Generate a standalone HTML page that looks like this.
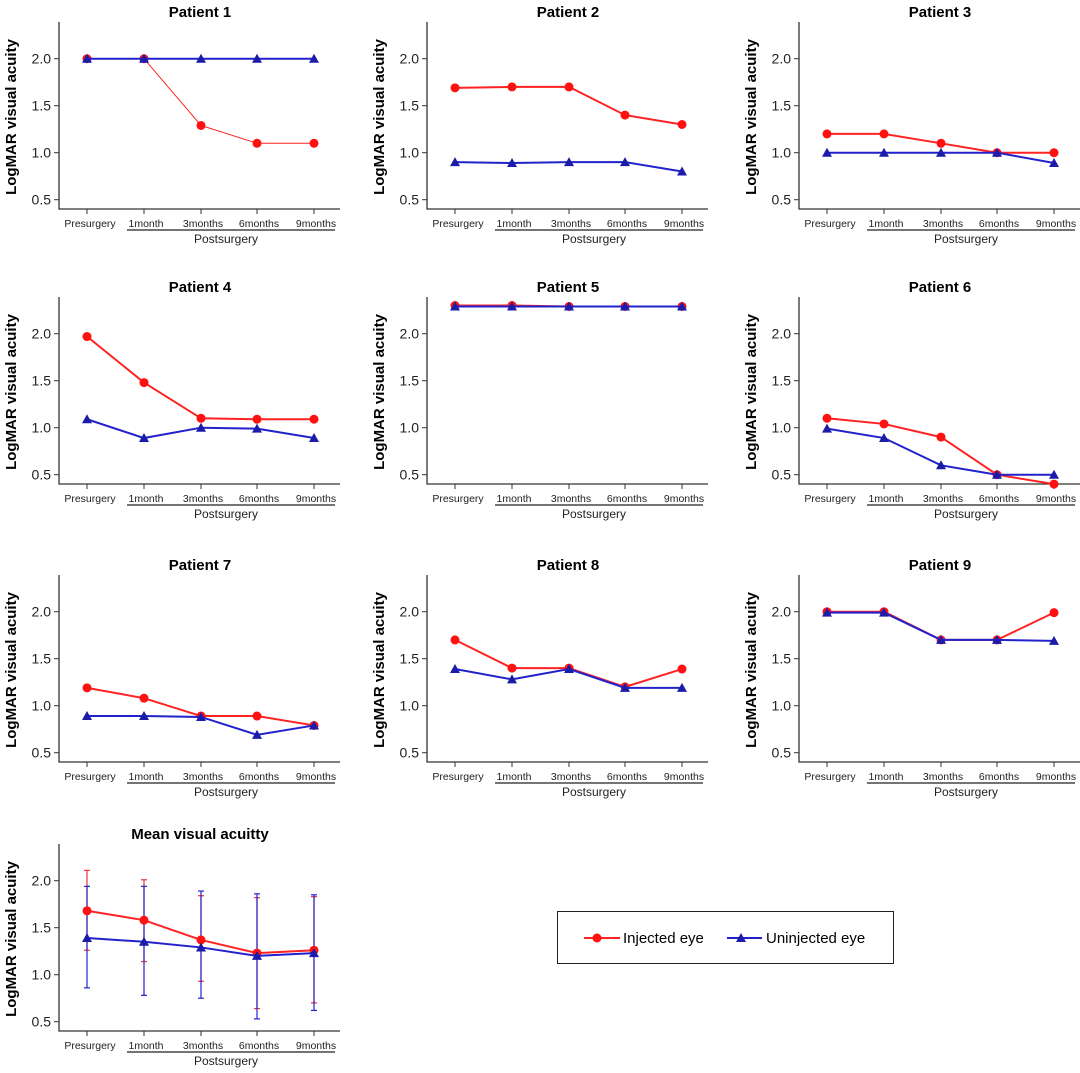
<!DOCTYPE html>
<html><head><meta charset="utf-8"><style>
body{margin:0;background:#fff;}
svg{display:block;font-family:"Liberation Sans",Arial,sans-serif;}
</style></head><body>
<svg id="s" width="1080" height="1073" xmlns="http://www.w3.org/2000/svg"></svg>
<script>
const P=[
["Patient 1",[2,2,1.29,1.1,1.1],[2,2,2,2,2]],
["Patient 2",[1.69,1.7,1.7,1.4,1.3],[.9,.89,.9,.9,.8]],
["Patient 3",[1.2,1.2,1.1,1.0,1.0],[1,1,1,1,.89]],
["Patient 4",[1.97,1.48,1.1,1.09,1.09],[1.09,.89,1.0,.99,.89]],
["Patient 5",[2.3,2.3,2.29,2.29,2.29],[2.29,2.29,2.29,2.29,2.29]],
["Patient 6",[1.1,1.04,.9,.5,.4],[.99,.89,.6,.5,.5]],
["Patient 7",[1.19,1.08,.89,.89,.79],[.89,.89,.88,.69,.79]],
["Patient 8",[1.7,1.4,1.4,1.2,1.39],[1.39,1.28,1.39,1.19,1.19]],
["Patient 9",[2,2,1.7,1.7,1.99],[1.99,1.99,1.7,1.7,1.69]],
["Mean visual acuitty",[1.68,1.58,1.37,1.23,1.26],[1.39,1.35,1.29,1.20,1.23]]
];
const EI=[[2.11,2.01,1.84,1.82,1.83],[1.26,1.14,.93,.64,.70]];
const EU=[[1.94,1.94,1.89,1.86,1.85],[.86,.78,.75,.53,.62]];
const cols=[0,368,740], rows=[0,275,553,822];
const XS=[87,144,201,257,314], XL=["Presurgery","1month","3months","6months","9months"];
let h="";
P.forEach((p,i)=>{
 const ox=cols[i%3], oy=rows[Math.floor(i/3)];
 const Y=v=>oy+58.7+(2-v)*94, X=k=>ox+XS[k];
 h+=`<text x="${ox+200}" y="${oy+17}" font-size="15" font-weight="bold" text-anchor="middle">${p[0]}</text>`;
 h+=`<path d="M${ox+59} ${oy+22}V${oy+209}H${ox+340}" fill="none" stroke="#333" stroke-width="1.3"/>`;
 [2,1.5,1,0.5].forEach(v=>{h+=`<line x1="${ox+54}" x2="${ox+59}" y1="${Y(v)}" y2="${Y(v)}" stroke="#333"/><text x="${ox+51}" y="${Y(v)+5}" font-size="14" text-anchor="end" fill="#222">${v.toFixed(1)}</text>`;});
 XS.forEach((x,k)=>{h+=`<line x1="${ox+x}" x2="${ox+x}" y1="${oy+209}" y2="${oy+214}" stroke="#333"/><text x="${ox+x+(k?2:3)}" y="${oy+227}" font-size="10.5" text-anchor="middle" fill="#222">${XL[k]}</text>`;});
 h+=`<line x1="${ox+127}" x2="${ox+335}" y1="${oy+230}" y2="${oy+230}" stroke="#222" stroke-width="1.2"/><text x="${ox+226}" y="${oy+243}" font-size="12" text-anchor="middle" fill="#222">Postsurgery</text>`;
 h+=`<text transform="translate(${ox+16},${oy+117}) rotate(-90)" font-size="15" font-weight="bold" text-anchor="middle">LogMAR visual acuity</text>`;
 if(i==9){
  [[EI,"#e33",-1],[EU,"#22c",1]].forEach(([E,c,d])=>{XS.forEach((x,k)=>{const xx=X(k);h+=`<line x1="${xx}" x2="${xx}" y1="${Y(E[0][k])}" y2="${Y(E[1][k])}" stroke="${c}" stroke-width="1.2"/>`;[0,1].forEach(j=>h+=`<line x1="${xx-3}" x2="${xx+3}" y1="${Y(E[j][k])}" y2="${Y(E[j][k])}" stroke="${c}" stroke-width="1.2"/>`);});});
 }
 const sw=i==0?1:2;
 h+=`<polyline points="${p[1].map((v,k)=>X(k)+","+Y(v)).join(" ")}" fill="none" stroke="#f22" stroke-width="${sw}"/>`;
 p[1].forEach((v,k)=>h+=`<circle cx="${X(k)}" cy="${Y(v)}" r="4.5" fill="#f11"/>`);
 h+=`<polyline points="${p[2].map((v,k)=>X(k)+","+Y(v)).join(" ")}" fill="none" stroke="#22c" stroke-width="2"/>`;
 p[2].forEach((v,k)=>{const x=X(k),y=Y(v);h+=`<path d="M${x-5} ${y+4}L${x} ${y-5}L${x+5} ${y+4}Z" fill="#1c1caa"/>`;});
});
h+=`<rect x="557.5" y="911.5" width="336" height="52" fill="#fff" stroke="#222"/>`;
h+=`<line x1="584" x2="620" y1="938" y2="938" stroke="#f22" stroke-width="2"/><circle cx="597" cy="938" r="4.5" fill="#f11"/><text x="623" y="943" font-size="15">Injected eye</text>`;
h+=`<line x1="727" x2="762" y1="938" y2="938" stroke="#22c" stroke-width="2"/><path d="M736 942L741 933L746 942Z" fill="#1c1caa"/><text x="766" y="943" font-size="15">Uninjected eye</text>`;
document.getElementById("s").innerHTML=h;
</script>
</body></html>
